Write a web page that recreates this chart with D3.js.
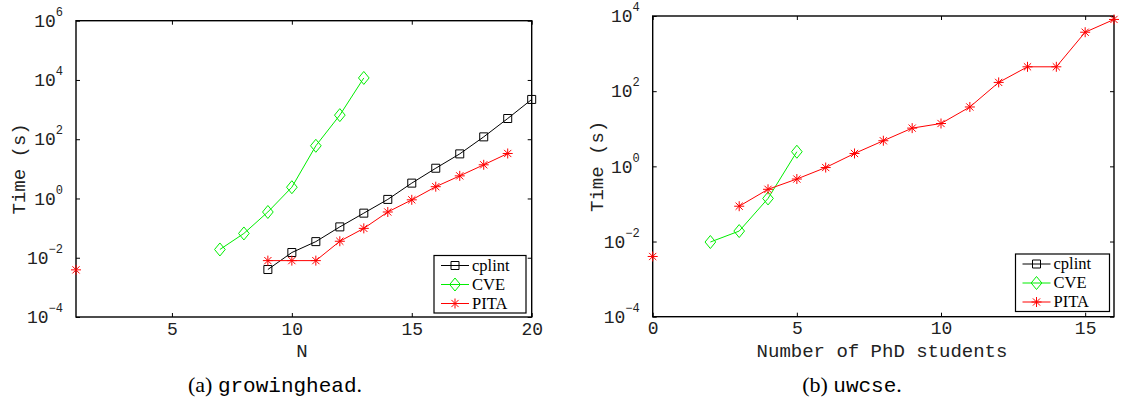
<!DOCTYPE html>
<html>
<head>
<meta charset="utf-8">
<script src="https://cdn.jsdelivr.net/npm/d3@7"></script>
<style>
  body { margin: 0; background: #fff; }
</style>
</head>
<body>
<svg id="chart" width="1122" height="404"></svg>
<script>
// (a) growinghead: time vs N
var ghCplintN = [9, 10, 11, 12, 13, 14, 15, 16, 17, 18, 19, 20];
var ghCplintTime = [0.004, 0.015, 0.035, 0.11, 0.32, 0.93, 3.3, 10.5, 32, 120, 500, 2200];
var ghCveN = [7, 8, 9, 10, 11, 12, 13];
var ghCveTime = [0.019, 0.066, 0.35, 2.4, 60, 650, 11700];
var ghPitaN = [1, 2, 3, 4, 5, 6, 7, 8, 9, 10, 11, 12, 13, 14, 15, 16, 17, 18, 19];
var ghPitaTime = [0.0039, null, null, null, null, null, null, null,
  0.008, 0.008, 0.008, 0.036, 0.098, 0.35, 0.9, 2.5, 5.8, 13.7, 33];
var ghXTicks = [5, 10, 15, 20];
var ghYTicks = [1e-4, 1e-2, 1, 1e2, 1e4, 1e6];

// (b) uwcse: time vs number of PhD students
var uwCveStudents = [2, 3, 4, 5];
var uwCveTime = [0.0097, 0.019, 0.14, 2.45];
var uwPitaStudents = [0, 1, 2, 3, 4, 5, 6, 7, 8, 9, 10, 11, 12, 13, 14, 15, 16];
var uwPitaTime = [0.004, null, null, 0.087, 0.245, 0.46, 0.93, 2.2, 4.8, 10.4,
  13.8, 38, 171, 445, 445, 3700, 8100];
var uwXTicks = [0, 5, 10, 15];
var uwYTicks = [1e-4, 1e-2, 1, 1e2, 1e4];

var legendNames = ["cplint", "CVE", "PITA"];

// marker shapes (matlab style)
var symDiamond = {
  draw: function (ctx, size) {
    var h = Math.sqrt(size) / 2, w = h * 0.82;
    ctx.moveTo(0, -h); ctx.lineTo(w, 0); ctx.lineTo(0, h); ctx.lineTo(-w, 0); ctx.closePath();
  }
};
var symAsterisk = {
  draw: function (ctx, size) {
    var r = Math.sqrt(size) / 2, q = r * 0.72;
    ctx.moveTo(-r, 0); ctx.lineTo(r, 0);
    ctx.moveTo(0, -r); ctx.lineTo(0, r);
    ctx.moveTo(-q, -q); ctx.lineTo(q, q);
    ctx.moveTo(-q, q); ctx.lineTo(q, -q);
  }
};

var styles = {
  cplint: { color: "#000", symbol: d3.symbolSquare, size: 64 },
  CVE: { color: "#00ee00", symbol: symDiamond, size: 169 },
  PITA: { color: "#ff0000", symbol: symAsterisk, size: 100 }
};

var svg = d3.select("#chart");
var monoFont = "'Liberation Mono', 'DejaVu Sans Mono', monospace";
var serifFont = "'Liberation Serif', 'DejaVu Serif', serif";

function drawPanel(p) {
  var x = d3.scaleLinear().domain(p.xDomain).range([p.left, p.right]);
  var y = d3.scaleLog().domain(p.yDomain).range([p.bottom, p.top]);
  var g = svg.append("g");

  // axes, ticks pointing inward
  var gx = g.append("g").attr("transform", "translate(0," + p.bottom + ")")
    .call(d3.axisBottom(x).tickValues(p.xTicks).tickSizeInner(-4).tickSizeOuter(0).tickPadding(5));
  gx.selectAll(".tick text").attr("font-size", 18).attr("font-family", monoFont).attr("fill", "#222");

  g.append("g").attr("transform", "translate(0," + p.top + ")")
    .call(d3.axisTop(x).tickValues(p.xTicks).tickSizeInner(-4).tickSizeOuter(0).tickFormat(""));

  var gy = g.append("g").attr("transform", "translate(" + p.left + ",0)")
    .call(d3.axisLeft(y).tickValues(p.yTicks).tickSizeInner(-4).tickSizeOuter(0).tickPadding(13));
  gy.selectAll(".tick text").each(function (d) {
    var t = d3.select(this).text(null)
      .attr("font-size", 18).attr("font-family", monoFont).attr("fill", "#222");
    t.append("tspan").text("10");
    var e = Math.round(Math.log10(d));
    t.append("tspan").attr("dy", -11).attr("font-size", 12)
      .text(e < 0 ? "\u2212" + (-e) : String(e));
  });

  g.append("g").attr("transform", "translate(" + p.right + ",0)")
    .call(d3.axisRight(y).tickValues(p.yTicks).tickSizeInner(-4).tickSizeOuter(0).tickFormat(""));

  g.selectAll(".domain").remove();
  g.selectAll(".tick line").attr("stroke", "#000");

  g.append("rect")
    .attr("x", p.left).attr("y", p.top)
    .attr("width", p.right - p.left).attr("height", p.bottom - p.top)
    .attr("fill", "none").attr("stroke", "#000").attr("stroke-width", 1.4);

  // series
  var line = d3.line()
    .defined(function (d) { return d[1] != null; })
    .x(function (d) { return x(d[0]); })
    .y(function (d) { return y(d[1]); });

  p.series.forEach(function (s) {
    var st = styles[s.name];
    var pts = d3.zip(s.x, s.y);
    g.append("path").datum(pts).attr("d", line)
      .attr("fill", "none").attr("stroke", st.color).attr("stroke-width", 1);
    g.selectAll(null).data(pts.filter(function (d) { return d[1] != null; }))
      .enter().append("path")
      .attr("transform", function (d) { return "translate(" + x(d[0]) + "," + y(d[1]) + ")"; })
      .attr("d", d3.symbol().type(st.symbol).size(st.size))
      .attr("fill", "none").attr("stroke", st.color).attr("stroke-width", 1);
  });

  // axis labels
  g.append("text")
    .attr("transform", "translate(" + p.yLabelX + "," + ((p.top + p.bottom) / 2) + ") rotate(-90)")
    .attr("text-anchor", "middle").attr("dy", "0.35em")
    .attr("font-family", monoFont).attr("font-size", 19).attr("fill", "#222")
    .text("Time (s)");
  g.append("text")
    .attr("x", p.xLabelX).attr("y", p.xLabelY)
    .attr("text-anchor", "middle")
    .attr("font-family", monoFont).attr("font-size", 19).attr("fill", "#222")
    .text(p.xLabel);

  // legend
  var lb = p.legend;
  var lg = g.append("g").attr("transform", "translate(" + lb.x + "," + lb.y + ")");
  lg.append("rect").attr("width", lb.w).attr("height", lb.h)
    .attr("fill", "#fff").attr("stroke", "#000").attr("stroke-width", 1.2);
  legendNames.forEach(function (name, i) {
    var st = styles[name];
    var cy = 10 + i * 19;
    lg.append("line").attr("x1", 7).attr("x2", 35).attr("y1", cy).attr("y2", cy)
      .attr("stroke", st.color).attr("stroke-width", 1);
    lg.append("path").attr("transform", "translate(21," + cy + ")")
      .attr("d", d3.symbol().type(st.symbol).size(st.size))
      .attr("fill", "none").attr("stroke", st.color).attr("stroke-width", 1);
    lg.append("text").attr("x", 38).attr("y", cy).attr("dy", "0.33em")
      .attr("font-family", serifFont).attr("font-size", 16.5).attr("fill", "#000")
      .text(name);
  });

  // caption
  var cap = svg.append("text").attr("x", p.captionX).attr("y", 392)
    .attr("text-anchor", "middle").attr("fill", "#000");
  cap.append("tspan").attr("font-family", serifFont).attr("font-size", 22).text("(" + p.captionTag + ") ");
  cap.append("tspan").attr("font-family", monoFont).attr("font-size", 21).text(p.captionName);
  cap.append("tspan").attr("font-family", serifFont).attr("font-size", 22).text(".");
}

drawPanel({
  left: 76, right: 531.7, top: 20.7, bottom: 317,
  xDomain: [1, 20], yDomain: [1e-4, 1e6],
  xTicks: ghXTicks, yTicks: ghYTicks,
  series: [
    { name: "cplint", x: ghCplintN, y: ghCplintTime },
    { name: "CVE", x: ghCveN, y: ghCveTime },
    { name: "PITA", x: ghPitaN, y: ghPitaTime }
  ],
  xLabel: "N", xLabelX: 302, xLabelY: 357,
  yLabelX: 18,
  legend: { x: 434, y: 255.5, w: 92, h: 57.5 },
  captionX: 275, captionTag: "a", captionName: "growinghead"
});

drawPanel({
  left: 652.7, right: 1114, top: 16, bottom: 316.7,
  xDomain: [0, 16], yDomain: [1e-4, 1e4],
  xTicks: uwXTicks, yTicks: uwYTicks,
  series: [
    { name: "CVE", x: uwCveStudents, y: uwCveTime },
    { name: "PITA", x: uwPitaStudents, y: uwPitaTime }
  ],
  xLabel: "Number of PhD students", xLabelX: 882, xLabelY: 357,
  yLabelX: 596,
  legend: { x: 1015.5, y: 254, w: 94, h: 57.5 },
  captionX: 852, captionTag: "b", captionName: "uwcse"
});
</script>
</body>
</html>
